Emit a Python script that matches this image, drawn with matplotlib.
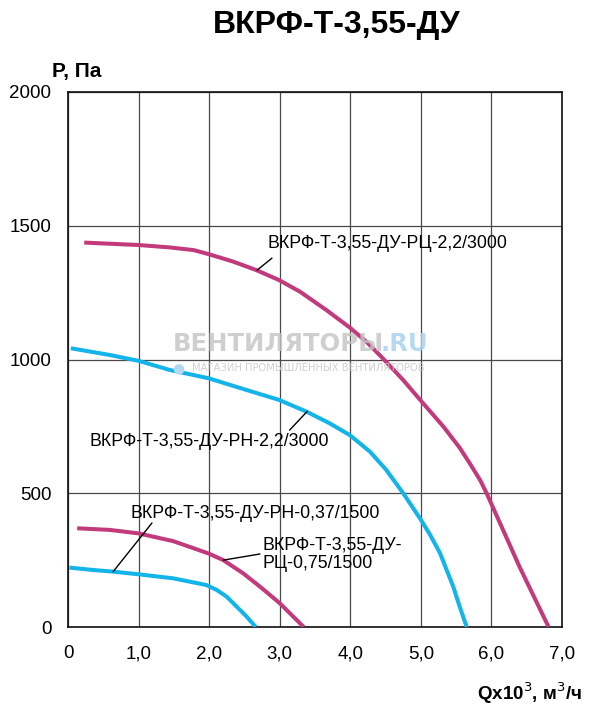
import matplotlib
matplotlib.use('Agg')
import matplotlib.pyplot as plt

plt.rcParams['font.family'] = ['Liberation Sans', 'DejaVu Sans']

# curve data (Q in thousands m3/h, P in Pa)
q_rc22 = [0.23, 1.0, 1.44, 1.78, 1.99, 2.34, 2.67, 2.99, 3.29, 3.66, 3.99, 4.23, 4.44,
          4.75, 4.99, 5.32, 5.55, 5.69, 5.84, 5.93, 6.4, 6.81]
p_rc22 = [1437, 1428, 1419, 1409, 1394, 1366, 1334, 1297, 1253, 1185, 1120, 1066, 1010,
          923, 849, 749, 670, 613, 549, 501, 224, 0]

q_rn22 = [0.04, 0.59, 1.0, 1.44, 1.99, 2.53, 2.99, 3.38, 3.71, 3.99, 4.28, 4.51, 4.75,
          4.99, 5.13, 5.27, 5.46, 5.55, 5.65]
p_rn22 = [1042, 1017, 995, 961, 930, 886, 849, 805, 761, 718, 655, 587, 500,
          405, 345, 277, 150, 76, 0]

q_rc075 = [0.13, 0.59, 1.0, 1.49, 1.99, 2.2, 2.48, 2.72, 3.0, 3.34]
p_rc075 = [369, 363, 350, 321, 275, 250, 201, 151, 89, 0]

q_rn037 = [0.02, 0.36, 0.64, 1.0, 1.49, 1.96, 2.11, 2.25, 2.39, 2.53, 2.66]
p_rn037 = [222, 213, 207, 197, 182, 157, 138, 113, 76, 39, 0]

x_ticks = [0, 1, 2, 3, 4, 5, 6, 7]
x_labels = ['0', '1,0', '2,0', '3,0', '4,0', '5,0', '6,0', '7,0']
y_ticks = [0, 500, 1000, 1500, 2000]

magenta = '#c23a7c'
blue = '#12b4ea'

fig = plt.figure(figsize=(6, 7.08), dpi=100)
ax = fig.add_axes([68 / 600, 1 - 627 / 708, (562 - 68) / 600, (627 - 92) / 708])

for q, p, c in [(q_rc22, p_rc22, magenta), (q_rn22, p_rn22, blue),
                (q_rc075, p_rc075, magenta), (q_rn037, p_rn037, blue)]:
    ax.plot(q, p, color=c, lw=2.9, solid_capstyle='butt', solid_joinstyle='round', zorder=3)

ax.set_xlim(0, 7)
ax.set_ylim(0, 2000)
ax.set_xticks(x_ticks)
ax.set_xticklabels(x_labels)
ax.set_yticks(y_ticks)
ax.tick_params(length=0, labelsize=13.5)
ax.tick_params(axis='x', pad=13)
ax.tick_params(axis='y', pad=12)
ax.grid(True, color='#4a4a4a', lw=0.9)
ax.set_axisbelow(True)
for s in ax.spines.values():
    s.set_color('#111111')
    s.set_linewidth(1.2)

# labels and leader lines
lead = dict(arrowstyle='-', color='black', lw=1, shrinkA=0, shrinkB=0)
fs = 12.8
ax.annotate('', xy=(2.68, 1334), xytext=(2.89, 1379), arrowprops=lead)
ax.text(2.82, 1435, 'ВКРФ-Т-3,55-ДУ-РЦ-2,2/3000', fontsize=fs, ha='left', va='center')

ax.annotate('', xy=(3.39, 806), xytext=(3.14, 736), arrowprops=lead)
ax.text(0.30, 692, 'ВКРФ-Т-3,55-ДУ-РН-2,2/3000', fontsize=fs, ha='left', va='center')

ax.annotate('', xy=(0.64, 207), xytext=(1.19, 389), arrowprops=lead)
ax.text(0.88, 426, 'ВКРФ-Т-3,55-ДУ-РН-0,37/1500', fontsize=fs, ha='left', va='center')

ax.annotate('', xy=(2.2, 250), xytext=(2.72, 273), arrowprops=lead)
ax.text(2.76, 271, 'ВКРФ-Т-3,55-ДУ-\nРЦ-0,75/1500', fontsize=fs, ha='left', va='center',
        linespacing=1.1)

# watermark
fig.text(173 / 600, 1 - 344 / 708, 'ВЕНТИЛЯТОРЫ', fontsize=17.5, fontweight='bold',
         family='DejaVu Sans', color='#c4c4c4', alpha=0.8, ha='left', va='center', zorder=5)
fig.text(428 / 600, 1 - 344 / 708, '.RU', fontsize=17.5, fontweight='bold',
         family='DejaVu Sans', color='#a9d2f2', alpha=0.85, ha='right', va='center', zorder=5)
fig.text(192 / 600, 1 - 368 / 708, 'МАГАЗИН ПРОМЫШЛЕННЫХ ВЕНТИЛЯТОРОВ', fontsize=7.2,
         family='DejaVu Sans', color='#c8c8c8', alpha=0.85, ha='left', va='center', zorder=5)
fig.text(178 / 600, 1 - 368 / 708, '●', fontsize=10, family='DejaVu Sans', color='#b5d8f2',
         ha='center', va='center', zorder=5)

fig.text(337 / 600, 1 - 25 / 708, 'ВКРФ-Т-3,55-ДУ', fontsize=23, fontweight='bold',
         ha='center', va='center')
fig.text(52 / 600, 1 - 71 / 708, 'P, Па', fontsize=15, fontweight='bold',
         ha='left', va='center')
fig.text(582 / 600, 1 - 693 / 708, 'Qx10$^3$, м$^3$/ч', fontsize=13.5, fontweight='bold',
         ha='right', va='center')

fig.savefig('out.png', dpi=100)
